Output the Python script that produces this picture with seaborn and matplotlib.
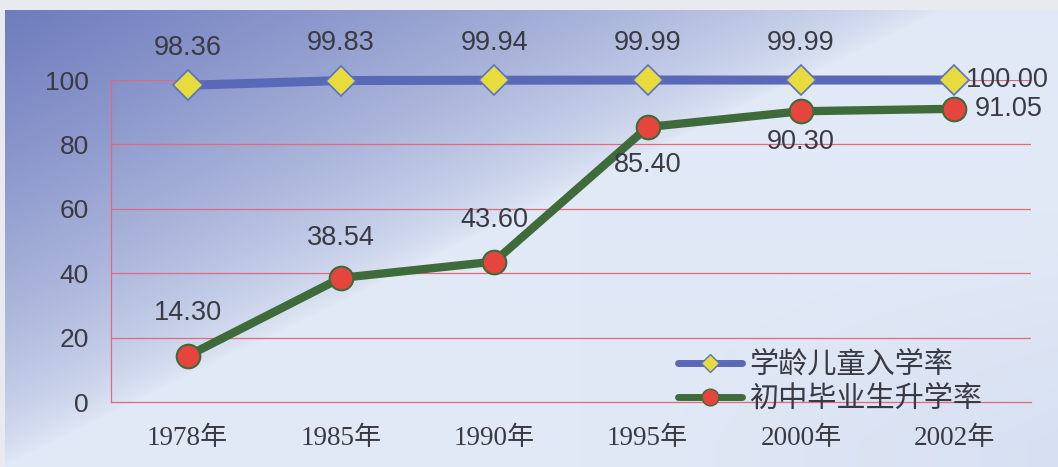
import numpy as np
import pandas as pd
import matplotlib
matplotlib.use("Agg")
import matplotlib.pyplot as plt
import seaborn as sns
from matplotlib.lines import Line2D

# data
years = ["1978年", "1985年", "1990年", "1995年", "2000年", "2002年"]
enroll = [98.36, 99.83, 99.94, 99.99, 99.99, 100.00]      # 学龄儿童入学率
promote = [14.30, 38.54, 43.60, 85.40, 90.30, 91.05]      # 初中毕业生升学率
series_names = ["学龄儿童入学率", "初中毕业生升学率"]
yticks = [0, 20, 40, 60, 80, 100]

df = pd.DataFrame({"year": years, "enroll": enroll, "promote": promote})

sns.set_theme(style="white")
plt.rcParams["font.family"] = ["Liberation Sans", "Noto Sans CJK SC", "DejaVu Sans"]

W, H = 1058, 467
fig = plt.figure(figsize=(W / 100, H / 100), dpi=100)

# sky-like background gradient
bg_ax = fig.add_axes([0, 0, 1, 1], zorder=-10)
yy, xx = np.mgrid[0:H, 0:W]
s = xx / W * 1.1 + yy / H * 1.0
w = np.clip(1 - s, 0, 1) ** 0.7
dark = np.array([108, 122, 188]) / 255
light = np.array([226, 233, 246]) / 255
img = light[None, None, :] * (1 - w[..., None]) + dark[None, None, :] * w[..., None]
# slight blue tint at bottom right
w2 = np.clip((xx / W - 0.55) * 2.2, 0, 1) * np.clip((yy / H - 0.45) * 2, 0, 1) * 0.35
tint = np.array([195, 208, 236]) / 255
img = img * (1 - w2[..., None]) + tint[None, None, :] * w2[..., None]
img[:10, :, :] = np.array([232, 234, 240]) / 255
img[:, :5, :] = np.array([232, 234, 240]) / 255
bg_ax.imshow(img, aspect="auto", extent=[0, 1, 0, 1])
bg_ax.set_axis_off()

ax = fig.add_axes([111 / W, (H - 402) / H, 920 / W, 322 / H])
ax.set_facecolor("none")

grid_c = "#e06a7c"
text_c = "#3a3a42"

sns.lineplot(data=df, x="year", y="enroll", ax=ax, color="#5a68b8", lw=6.5,
             marker="D", markersize=15, markerfacecolor="#e8dc3c",
             markeredgecolor="#5a72c4", markeredgewidth=1.2, clip_on=False, zorder=5)
sns.lineplot(data=df, x="year", y="promote", ax=ax, color="#3f6b3b", lw=6,
             marker="o", markersize=17, markerfacecolor="#e5453c",
             markeredgecolor="#3f6b3b", markeredgewidth=1.5, clip_on=False, zorder=6)

ax.set_xlim(-0.5, len(years) - 0.5)
ax.set_ylim(0, 100)
ax.set_yticks(yticks)
for t in yticks[1:]:
    ax.axhline(t, color=grid_c, lw=0.9, zorder=1)
for side in ["top", "right"]:
    ax.spines[side].set_visible(False)
for side in ["left", "bottom"]:
    ax.spines[side].set_color(grid_c)
    ax.spines[side].set_linewidth(0.9)
ax.set_xlabel("")
ax.set_ylabel("")
ax.tick_params(axis="y", length=0, pad=16, labelsize=19, labelcolor=text_c)
ax.tick_params(axis="x", length=0, pad=17, labelsize=19.5, labelcolor=text_c)
for lab in ax.get_xticklabels():
    lab.set_family(["Liberation Serif", "Noto Sans CJK SC"])

# value labels: offsets in points (dx, dy, ha)
enroll_off = [(0, 27, "center")] * 5 + [(8, 0, "left")]
promote_off = [(0, 31, "center"), (0, 29, "center"), (0, 30, "center"),
               (0, -27, "center"), (0, -22, "center"), (15, 0, "left")]
for vals, offs in [(enroll, enroll_off), (promote, promote_off)]:
    for yr, v, (dx, dy, ha) in zip(years, vals, offs):
        ax.annotate(f"{v:.2f}", xy=(yr, v), xytext=(dx, dy), textcoords="offset points",
                    ha=ha, va="center", fontsize=19.5, color=text_c, zorder=8,
                    annotation_clip=False)

handles = [
    Line2D([], [], color="#5a68b8", lw=5, marker="D", markersize=9,
           markerfacecolor="#e8dc3c", markeredgecolor="#5a72c4"),
    Line2D([], [], color="#3f6b3b", lw=5, marker="o", markersize=12,
           markerfacecolor="#e5453c", markeredgecolor="#3f6b3b"),
]
leg = fig.legend(handles, series_names, loc="center left",
                 bbox_to_anchor=(678 / W, (H - 382) / H), frameon=False,
                 fontsize=21, handlelength=2.2, handletextpad=0.25,
                 labelspacing=0.15, borderpad=0, borderaxespad=0)
for t in leg.get_texts():
    t.set_family(["Noto Sans CJK SC", "DejaVu Sans"])
    t.set_color(text_c)

fig.savefig("out.png", dpi=100)
